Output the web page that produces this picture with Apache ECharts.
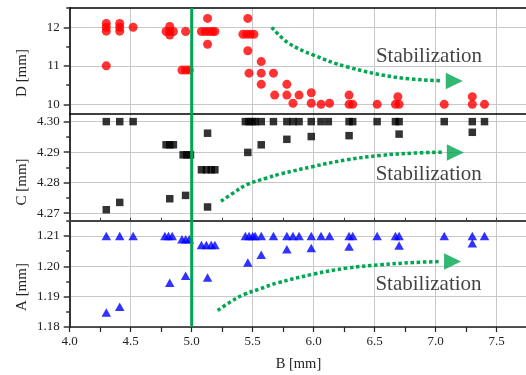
<!DOCTYPE html>
<html><head><meta charset="utf-8">
<script src="https://cdn.jsdelivr.net/npm/echarts@6/dist/echarts.min.js"></script>
<style>html,body{margin:0;padding:0;background:#fff}#c{width:526px;height:375px}</style>
</head><body><div id="c"></div>
<script>
// ---- data (B [mm], value) ----
const dPoints = [
 [4.30,12.1],[4.30,12.0],[4.30,11.9],[4.30,11.0],
 [4.41,12.1],[4.41,12.0],[4.41,11.9],
 [4.52,12.0],
 [4.82,12.02],[4.79,11.89],[4.82,11.89],[4.85,11.89],[4.82,11.8],
 [4.95,11.89],
 [4.92,10.89],[4.95,10.89],[4.98,10.89],
 [5.13,12.23],[5.08,11.89],[5.11,11.89],[5.14,11.89],[5.17,11.89],[5.19,11.89],[5.13,11.56],
 [5.46,12.23],[5.42,11.82],[5.45,11.82],[5.48,11.82],[5.51,11.82],[5.46,11.39],
 [5.57,11.11],[5.47,10.81],[5.57,10.81],[5.67,10.81],[5.57,10.52],[5.78,10.52],
 [5.68,10.24],[5.78,10.24],[5.88,10.24],[5.83,10.03],
 [5.98,10.30],[5.98,10.03],[6.06,10.0],[6.13,10.03],
 [6.29,10.24],[6.29,10.0],[6.32,10.0],
 [6.52,10.0],
 [6.69,10.2],[6.67,10.0],[6.70,10.0],
 [7.07,10.0],
 [7.30,10.2],[7.30,10.0],
 [7.40,10.0]
];
const cPoints = [
 [4.30,4.300],[4.41,4.300],[4.52,4.300],[4.30,4.2711],[4.41,4.2735],
 [4.79,4.2924],[4.82,4.2924],[4.85,4.2924],[4.82,4.2747],
 [4.93,4.2891],[4.96,4.2891],[4.99,4.2891],[4.95,4.2758],
 [5.13,4.2962],[5.08,4.2842],[5.12,4.2842],[5.16,4.2842],[5.19,4.2842],[5.13,4.2720],
 [5.44,4.300],[5.47,4.300],[5.50,4.300],[5.52,4.300],[5.46,4.2899],
 [5.57,4.300],[5.57,4.2924],[5.67,4.300],[5.78,4.300],[5.78,4.2942],[5.83,4.300],[5.88,4.300],
 [5.98,4.300],[5.98,4.2951],[6.06,4.300],[6.12,4.300],
 [6.29,4.300],[6.32,4.300],[6.29,4.2954],
 [6.52,4.300],[6.67,4.300],[6.70,4.300],[6.70,4.2959],
 [7.07,4.300],[7.30,4.300],[7.30,4.2965],[7.40,4.300]
];
const aPoints = [
 [4.30,1.210],[4.41,1.210],[4.52,1.210],[4.30,1.1848],[4.41,1.1867],
 [4.78,1.210],[4.81,1.210],[4.84,1.210],[4.82,1.1946],
 [4.92,1.2089],[4.95,1.2089],[4.98,1.2089],[4.95,1.1969],
 [5.08,1.2070],[5.12,1.2070],[5.16,1.2070],[5.19,1.2070],[5.13,1.1963],
 [5.44,1.210],[5.47,1.210],[5.50,1.210],[5.52,1.210],[5.46,1.2012],
 [5.57,1.210],[5.57,1.2038],[5.67,1.210],[5.78,1.210],[5.78,1.2056],[5.83,1.210],[5.88,1.210],
 [5.98,1.210],[5.98,1.2060],[6.06,1.210],[6.13,1.210],
 [6.29,1.210],[6.32,1.210],[6.29,1.2065],
 [6.52,1.210],[6.67,1.210],[6.70,1.210],[6.70,1.2068],
 [7.07,1.210],[7.30,1.210],[7.30,1.2076],[7.40,1.210]
];
// axes
const xRange = [4.0, 7.75];
const dRange = [9.75, 12.5], dTicks = [10, 11, 12], dMinor = [10.5, 11.5, 12.5];
const cRange = [4.2675, 4.3025], cTicks = [4.27, 4.28, 4.29, 4.30], cMinor = [4.275, 4.285, 4.295];
const aRange = [1.18, 1.215], aTicks = [1.18, 1.19, 1.20, 1.21], aMinor = [1.185, 1.195, 1.205, 1.215];
const thresholdB = 5.0;
// annotation arrows (data coordinates)
const dArrow = [[5.656,12.0],[5.789,11.60],[5.997,11.28],[6.270,10.977],[6.680,10.70],[7.035,10.613]];
const cArrow = [[5.240,4.27386],[5.341,4.2766],[5.451,4.27931],[5.615,4.2815],[5.724,4.2828],[5.997,4.2853],[6.270,4.28748],[6.543,4.28889],[6.816,4.28967],[7.062,4.2900]];
const aArrow = [[5.213,1.18543],[5.314,1.18819],[5.423,1.19059],[5.560,1.19257],[5.697,1.19444],[5.997,1.1974],[6.270,1.19938],[6.543,1.20046],[6.816,1.20122],[7.035,1.20155]];
const dHead = [7.152,10.605], cHead = [7.161,4.28987], aHead = [7.138,1.20155];
const noteText = 'Stabilization';
const dNote = [6.945,11.236], cNote = [6.943,4.28258], aNote = [6.941,1.19388];
const yNames = ['D [mm]', 'C [mm]', 'A [mm]'];
const xName = 'B [mm]';

const FONT = '"Liberation Serif","Times New Roman",serif';
const GREEN = '#00a651';
const GRID = '#c8c8c8';

function xAxis(gi, extra) {
  return Object.assign({
    type: 'value', gridIndex: gi, min: xRange[0], max: xRange[1], interval: 0.5,
    axisLine: {show: true, onZero: false, lineStyle: {color: '#000', width: 1.5}},
    axisTick: {show: false}, axisLabel: {show: false},
    splitLine: {show: true, lineStyle: {color: GRID, width: 1}}
  }, extra || {});
}
function yMain(gi, range, ticks, digits) {
  return {
    type: 'value', gridIndex: gi, min: range[0], max: range[1], position: 'left',
    axisLine: {show: true, onZero: false, lineStyle: {color: '#333', width: 2}},
    axisTick: {show: true, inside: false, length: 6, customValues: ticks, lineStyle: {color: '#333', width: 1.5}},
    axisLabel: {show: true, customValues: ticks, margin: 10, fontFamily: FONT, fontSize: 13, color: '#222',
      formatter: v => Number(v).toFixed(digits)},
    splitLine: {show: true, lineStyle: {color: GRID, width: 1}}
  };
}
function yMinor(gi, range, ticks) {
  return {
    type: 'value', gridIndex: gi, min: range[0], max: range[1], position: 'left', offset: 0,
    axisLine: {show: false, onZero: false},
    axisTick: {show: true, inside: false, length: 3.5, customValues: ticks, lineStyle: {color: '#333', width: 1.5}},
    axisLabel: {show: false}, splitLine: {show: false}
  };
}
function arrowSeries(xi, yi, pts, head) {
  return [{
    type: 'line', xAxisIndex: xi, yAxisIndex: yi, data: pts, smooth: 0.4, showSymbol: false, silent: true, z: 4,
    lineStyle: {color: GREEN, width: 3.5, type: [3.5, 2.6], cap: 'butt'}
  }, {
    type: 'scatter', xAxisIndex: xi, yAxisIndex: yi, data: [head], symbol: 'triangle', symbolRotate: -90,
    symbolSize: [16.6, 17], itemStyle: {color: GREEN}, silent: true, z: 4
  }];
}
function noteSeries(xi, yi, pos) {
  return {
    type: 'scatter', xAxisIndex: xi, yAxisIndex: yi, data: [pos], symbolSize: 1, silent: true, z: 6,
    itemStyle: {color: 'transparent'},
    label: {show: true, position: 'inside', formatter: noteText, fontFamily: FONT, fontSize: 21, color: '#111'}
  };
}
function vline(xi, yi, range) {
  return {type: 'line', xAxisIndex: xi, yAxisIndex: yi, data: [[thresholdB, range[0]], [thresholdB, range[1]]],
    showSymbol: false, silent: true, z: 5, lineStyle: {color: GREEN, width: 3}};
}

const chart = echarts.init(document.getElementById('c'), null, {renderer: 'canvas'});
chart.setOption({
  animation: false,
  backgroundColor: '#fff',
  grid: [
    {left: 69.7, right: -1.2, top: 8, height: 106, outerBoundsMode: 'none', containLabel: false},
    {left: 69.7, right: -1.2, top: 114, height: 106.7, outerBoundsMode: 'none', containLabel: false},
    {left: 69.7, right: -1.2, top: 220.7, height: 106.3, outerBoundsMode: 'none', containLabel: false}
  ],
  xAxis: [
    xAxis(0),
    xAxis(0, {position: 'top', splitLine: {show: false}}),
    xAxis(1, {axisLine: {show: true, onZero: false, lineStyle: {color: '#444', width: 2}},
      axisTick: {show: true, inside: true, length: 3, lineStyle: {color: '#444'}},
      minorTick: {show: true, splitNumber: 2, length: 3, lineStyle: {color: '#444'}}}),
    xAxis(2, {
      axisLine: {show: true, onZero: false, lineStyle: {color: '#222', width: 1.5}},
      axisTick: {show: true, inside: false, length: 5, lineStyle: {color: '#222', width: 1.2}},
      minorTick: {show: true, splitNumber: 2, length: 5, lineStyle: {color: '#222', width: 1.2}},
      axisLabel: {show: true, showMaxLabel: false, margin: 8, fontFamily: FONT, fontSize: 13, color: '#222',
        formatter: v => Number(v).toFixed(1)},
      name: xName, nameLocation: 'middle', nameGap: 30,
      nameTextStyle: {fontFamily: FONT, fontSize: 14.5, color: '#222'}
    })
  ],
  yAxis: [
    yMain(0, dRange, dTicks, 0), yMinor(0, dRange, dMinor),
    yMain(1, cRange, cTicks, 2), yMinor(1, cRange, cMinor),
    yMain(2, aRange, aTicks, 2), yMinor(2, aRange, aMinor)
  ],
  graphic: yNames.map((t, i) => ({
    type: 'text', x: 21.7, y: [73, 182, 287][i], rotation: Math.PI / 2,
    style: {text: t, font: '15px ' + FONT, fill: '#222', align: 'center', verticalAlign: 'middle'}
  })),
  series: [
    {type: 'scatter', xAxisIndex: 0, yAxisIndex: 0, data: dPoints, symbol: 'circle', symbolSize: 9,
      itemStyle: {color: '#ff0000'}, z: 3},
    {type: 'scatter', xAxisIndex: 2, yAxisIndex: 2, data: cPoints, symbol: 'rect', symbolSize: 7.5,
      itemStyle: {color: '#000'}, z: 3},
    {type: 'scatter', xAxisIndex: 3, yAxisIndex: 4, data: aPoints, symbol: 'triangle', symbolSize: [9.5, 8.5],
      itemStyle: {color: '#0000ff'}, z: 3},
    vline(0, 0, dRange), vline(2, 2, cRange), vline(3, 4, aRange),
    ...arrowSeries(0, 0, dArrow, dHead),
    ...arrowSeries(2, 2, cArrow, cHead),
    ...arrowSeries(3, 4, aArrow, aHead),
    noteSeries(0, 0, dNote), noteSeries(2, 2, cNote), noteSeries(3, 4, aNote)
  ]
});
</script></body></html>
